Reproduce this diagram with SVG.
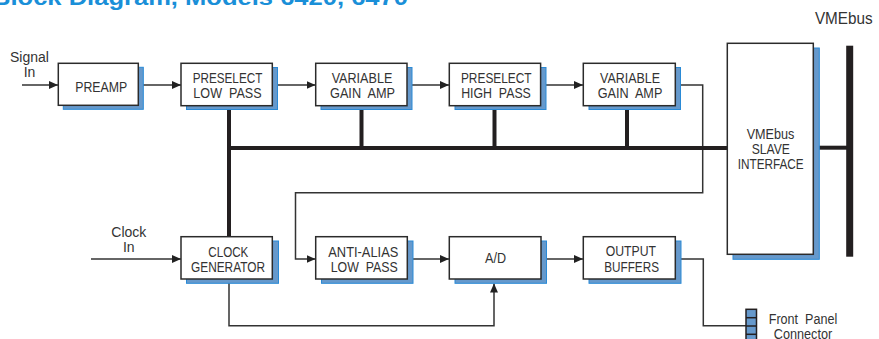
<svg xmlns="http://www.w3.org/2000/svg" width="879" height="339" viewBox="0 0 879 339">
<defs>
<style>
.box{fill:#fff;stroke:#2b2b2b;stroke-width:1.5}
.sh{fill:#6699cc;stroke:#2a8ad6;stroke-width:1}
.t{font-family:"Liberation Sans",Arial,sans-serif;font-size:15.5px;fill:#333;text-anchor:middle}
.lb{font-family:"Liberation Sans",Arial,sans-serif;font-size:14px;fill:#333;text-anchor:middle}
.ln{fill:none;stroke:#333;stroke-width:1.5}
.bus{fill:none;stroke:#231f20;stroke-width:4}
</style>
<marker id="ar" markerUnits="userSpaceOnUse" markerWidth="10" markerHeight="10" refX="9" refY="5" orient="auto">
<path d="M0,1 L9,5 L0,9 Z" fill="#222"/>
</marker>
</defs>
<rect width="879" height="339" fill="#fff"/>
<text x="-8" y="4.5" font-family="Liberation Sans,Arial,sans-serif" font-size="22" font-weight="bold" fill="#1a8fd8" textLength="416" lengthAdjust="spacingAndGlyphs">Block Diagram, Models 6420, 6470</text>

<g id="connectors">
<line class="ln" x1="22" y1="85" x2="58" y2="85" marker-end="url(#ar)"/>
<line class="ln" x1="143" y1="85" x2="181" y2="85" marker-end="url(#ar)"/>
<line class="ln" x1="277" y1="85" x2="315.5" y2="85" marker-end="url(#ar)"/>
<line class="ln" x1="412" y1="85" x2="449" y2="85" marker-end="url(#ar)"/>
<line class="ln" x1="546" y1="85" x2="583" y2="85" marker-end="url(#ar)"/>
<polyline class="ln" points="680,85 702.7,85 702.7,192.7 295.5,192.7 295.5,259 315.5,259" marker-end="url(#ar)"/>
<line class="ln" x1="91" y1="259" x2="181" y2="259" marker-end="url(#ar)"/>
<line class="ln" x1="412" y1="259" x2="449" y2="259" marker-end="url(#ar)"/>
<line class="ln" x1="546" y1="259" x2="583" y2="259" marker-end="url(#ar)"/>
<polyline class="ln" points="229,283 229,325.7 494,325.7 494,283.5" marker-end="url(#ar)"/>
<polyline class="ln" points="680,259 703.3,259 703.3,325.7 746,325.7"/>
<line class="bus" x1="229" y1="109" x2="229" y2="236.7"/>
<line class="bus" x1="227" y1="148" x2="727" y2="148"/>
<line class="bus" x1="361.5" y1="109" x2="361.5" y2="148"/>
<line class="bus" x1="494.5" y1="109" x2="494.5" y2="148"/>
<line class="bus" x1="627" y1="109" x2="627" y2="148"/>
<line class="bus" x1="819" y1="147.7" x2="847" y2="147.7"/>
</g>

<g id="signal-in">
<text class="lb" x="29.5" y="62">Signal</text>
<text class="lb" x="29.5" y="77">In</text>
</g>
<g id="clock-in">
<text class="lb" x="128.8" y="237.3">Clock</text>
<text class="lb" x="128.8" y="251.7">In</text>
</g>

<g id="preamp">
<rect class="sh" x="63.3" y="67.3" width="80" height="42"/>
<rect class="box" x="58.3" y="63.3" width="80" height="42"/>
<text class="t" x="101.2" y="91.5" textLength="52" lengthAdjust="spacingAndGlyphs">PREAMP</text>
</g>
<g id="preselect-low-pass">
<rect class="sh" x="186.5" y="67.5" width="91" height="42"/>
<rect class="box" x="181" y="63.3" width="91.3" height="42.4"/>
<text class="t" x="227.5" y="83.3" textLength="69.6" lengthAdjust="spacingAndGlyphs">PRESELECT</text>
<text class="t" x="227.5" y="98" textLength="68.3" lengthAdjust="spacingAndGlyphs" xml:space="preserve">LOW  PASS</text>
</g>
<g id="variable-gain-amp-1">
<rect class="sh" x="321" y="67.5" width="91" height="42"/>
<rect class="box" x="315.7" y="63.3" width="91.3" height="42.4"/>
<text class="t" x="362" y="83.3" textLength="60.7" lengthAdjust="spacingAndGlyphs">VARIABLE</text>
<text class="t" x="362.5" y="98" textLength="65" lengthAdjust="spacingAndGlyphs" xml:space="preserve">GAIN  AMP</text>
</g>
<g id="preselect-high-pass">
<rect class="sh" x="455" y="67.5" width="91" height="42"/>
<rect class="box" x="449.3" y="63.3" width="91.3" height="42.4"/>
<text class="t" x="496.3" y="83.3" textLength="70.7" lengthAdjust="spacingAndGlyphs">PRESELECT</text>
<text class="t" x="496" y="98" textLength="69.7" lengthAdjust="spacingAndGlyphs" xml:space="preserve">HIGH  PASS</text>
</g>
<g id="variable-gain-amp-2">
<rect class="sh" x="589" y="67.5" width="91.5" height="42"/>
<rect class="box" x="583.3" y="63.3" width="92" height="42.4"/>
<text class="t" x="630" y="83.3" textLength="60" lengthAdjust="spacingAndGlyphs">VARIABLE</text>
<text class="t" x="630" y="98" textLength="64.7" lengthAdjust="spacingAndGlyphs" xml:space="preserve">GAIN  AMP</text>
</g>
<g id="vmebus-slave-interface">
<rect class="sh" x="733" y="48" width="86.3" height="211.3"/>
<rect class="box" x="727.3" y="43.3" width="86" height="211"/>
<text class="t" x="770.5" y="139" textLength="47.7" lengthAdjust="spacingAndGlyphs">VMEbus</text>
<text class="t" x="770.8" y="154" textLength="38.3" lengthAdjust="spacingAndGlyphs">SLAVE</text>
<text class="t" x="770.7" y="169.3" textLength="66" lengthAdjust="spacingAndGlyphs">INTERFACE</text>
</g>
<g id="vmebus">
<rect x="846.2" y="45.7" width="7" height="211" fill="#231f20"/>
<text x="843.8" y="24" font-family="Liberation Sans,Arial,sans-serif" font-size="17" fill="#333" text-anchor="middle" textLength="57.7" lengthAdjust="spacingAndGlyphs">VMEbus</text>
</g>
<g id="clock-generator">
<rect class="sh" x="186.5" y="241" width="92" height="42.3"/>
<rect class="box" x="181" y="236.7" width="91.3" height="42.3"/>
<text class="t" x="228.3" y="256.7" textLength="40" lengthAdjust="spacingAndGlyphs">CLOCK</text>
<text class="t" x="228" y="271.7" textLength="74" lengthAdjust="spacingAndGlyphs">GENERATOR</text>
</g>
<g id="anti-alias-low-pass">
<rect class="sh" x="321.5" y="241" width="91.5" height="42.3"/>
<rect class="box" x="315.7" y="236.7" width="91.6" height="42.3"/>
<text class="t" x="363.3" y="256.7" textLength="70" lengthAdjust="spacingAndGlyphs">ANTI-ALIAS</text>
<text class="t" x="364.2" y="271.7" textLength="67" lengthAdjust="spacingAndGlyphs" xml:space="preserve">LOW  PASS</text>
</g>
<g id="a-d">
<rect class="sh" x="455" y="241" width="91.5" height="42.3"/>
<rect class="box" x="449.3" y="236.7" width="91.7" height="42.3"/>
<text class="t" x="495.5" y="263" textLength="21" lengthAdjust="spacingAndGlyphs">A/D</text>
</g>
<g id="output-buffers">
<rect class="sh" x="589" y="241" width="92" height="42.3"/>
<rect class="box" x="583.3" y="236.7" width="92" height="42.3"/>
<text class="t" x="630.8" y="256.3" textLength="50.3" lengthAdjust="spacingAndGlyphs">OUTPUT</text>
<text class="t" x="631.6" y="271.7" textLength="54.7" lengthAdjust="spacingAndGlyphs">BUFFERS</text>
</g>
<g id="front-panel-connector">
<rect x="746" y="309.3" width="10.5" height="35" fill="#6699cc" stroke="#231f20" stroke-width="1.5"/>
<line x1="746" y1="317.7" x2="756.5" y2="317.7" stroke="#231f20" stroke-width="1.5"/>
<line x1="746" y1="326" x2="756.5" y2="326" stroke="#231f20" stroke-width="1.5"/>
<line x1="746" y1="334.3" x2="756.5" y2="334.3" stroke="#231f20" stroke-width="1.5"/>
<text class="lb" x="803" y="324.3" textLength="68.5" lengthAdjust="spacingAndGlyphs" xml:space="preserve">Front  Panel</text>
<text class="lb" x="803" y="339" textLength="58.5" lengthAdjust="spacingAndGlyphs">Connector</text>
</g>
</svg>
